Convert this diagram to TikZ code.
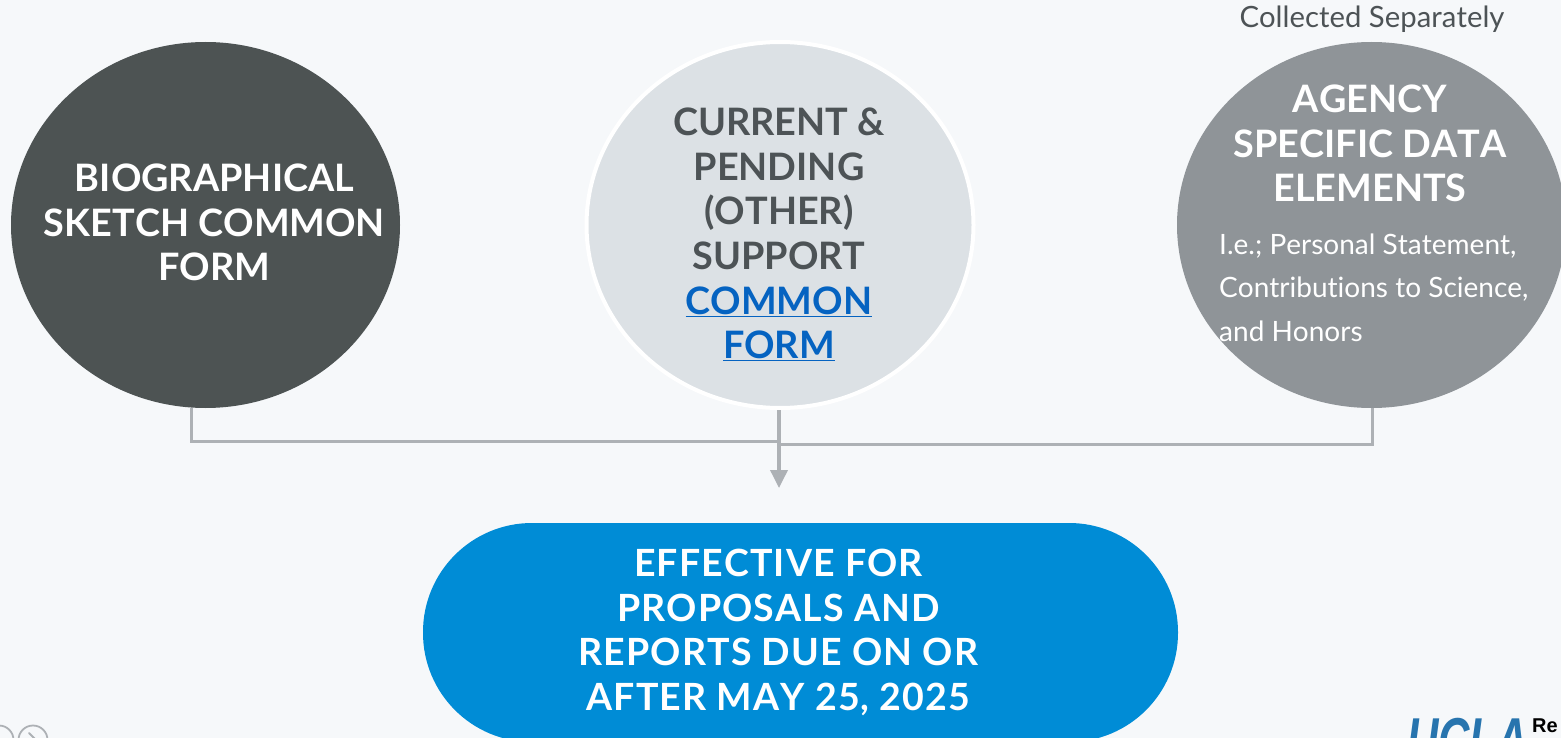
\documentclass[tikz,border=0pt]{standalone}
\usepackage{fontspec}
\usetikzlibrary{shapes.geometric,arrows.meta,calc}
\setmainfont[Kerning=Off,Ligatures=NoCommon]{Lato}
\newfontfamily\helv{Liberation Sans}
\newfontfamily\helvn[FakeStretch=0.7]{Liberation Sans}
\definecolor{bgc}{HTML}{F6F8FA}
\definecolor{darkc}{HTML}{4D5353}
\definecolor{lightc}{HTML}{DCE1E5}
\definecolor{midc}{HTML}{8F9498}
\definecolor{pillc}{HTML}{008CD6}
\definecolor{linec}{HTML}{ADB1B5}
\definecolor{linkc}{HTML}{0563C1}
\definecolor{titlec}{HTML}{4D5356}
\definecolor{uclac}{HTML}{2774AE}
\definecolor{navc}{HTML}{ADB1B5}
\tikzset{
 x=1pt,y=-1pt,
 blob/.style={ellipse,inner sep=0pt,minimum width=#1,minimum height=366pt},
 head/.style={align=center,font=\fontsize{37.8}{44.7}\selectfont\bfseries,inner sep=0pt},
 conn/.style={draw=linec,line width=3pt},
}
\begin{document}
\begin{tikzpicture}
\useasboundingbox (0,0) rectangle (1561,738);
\clip (0,0) rectangle (1561,738);
\fill[bgc] (0,0) rectangle (1561,738);
% circles
\node[blob=389pt,fill=darkc] (bio) at (205.5,225) {};
\node[blob=387pt,fill=lightc,draw=white,line width=4pt] (cur) at (780,225) {};
\node[blob=389pt,fill=midc] (agy) at (1371.5,225) {};
\node[fill=pillc,rounded corners=109pt,minimum width=755pt,minimum height=219pt,inner sep=0pt] (pill) at (800.5,632.5) {};
% connectors
\coordinate (bioout) at (191,408);
\coordinate (agyout) at (1372,408);
\coordinate (join) at (779,441);
\coordinate (joinr) at (779,444.5);
\coordinate (tip) at (779,488);
\draw[conn] (bioout) |- (join);
\draw[conn] (agyout) |- (joinr);
\draw[conn,line width=3.6pt,-{Triangle[length=18pt,width=17pt]}] (cur.south -| tip) -- (tip);
% texts
\node[head,text=white] (biotx) at (214.5,222.5) {BIOGRAPHICAL\\SKETCH COMMON\\FORM};
\node[head,text=titlec] (curtx) at (779,234.5) {CURRENT \&\\PENDING\\(OTHER)\\SUPPORT\\{\color{linkc}\underline{COMMON}}\\{\color{linkc}\underline{FORM}}};
\node[head,text=white] (agytx) at (1370,143.5) {AGENCY\\SPECIFIC DATA\\ELEMENTS};
\node[anchor=west,align=left,text=white,font=\fontsize{28}{43.5}\selectfont,inner sep=0pt] (agydet) at (1219,287.5) {I.e.; Personal Statement,\\Contributions to Science,\\and Honors};
\node[text=titlec,font=\fontsize{29.3}{34}\selectfont,inner sep=0pt] (sep) at (1372,19.5) {Collected Separately};
\node[align=center,text=white,inner sep=0pt,font=\fontsize{37.5}{44.7}\selectfont\bfseries\addfontfeatures{LetterSpace=3}] (pilltx) at (778.5,632.5) {EFFECTIVE FOR\\PROPOSALS AND\\REPORTS DUE ON OR\\AFTER MAY 25, 2025};
% footer remnants
\draw[navc,line width=1.8pt] (-1,740) circle (14.5);
\draw[navc,line width=1.8pt] (33,740) circle (14.5);
\draw[navc,line width=1.8pt,line cap=round] (29,733) -- (37,741);
\node[anchor=base west,inner sep=0pt,text=uclac,font=\helvn\fontsize{62}{62}\selectfont\bfseries\itshape] (ucla) at (1407,761) {UCLA};
\node[anchor=base west,inner sep=0pt,text=black,font=\helv\fontsize{20}{20}\selectfont\bfseries] (re) at (1532,732.5) {Re};
\end{tikzpicture}
\end{document}
